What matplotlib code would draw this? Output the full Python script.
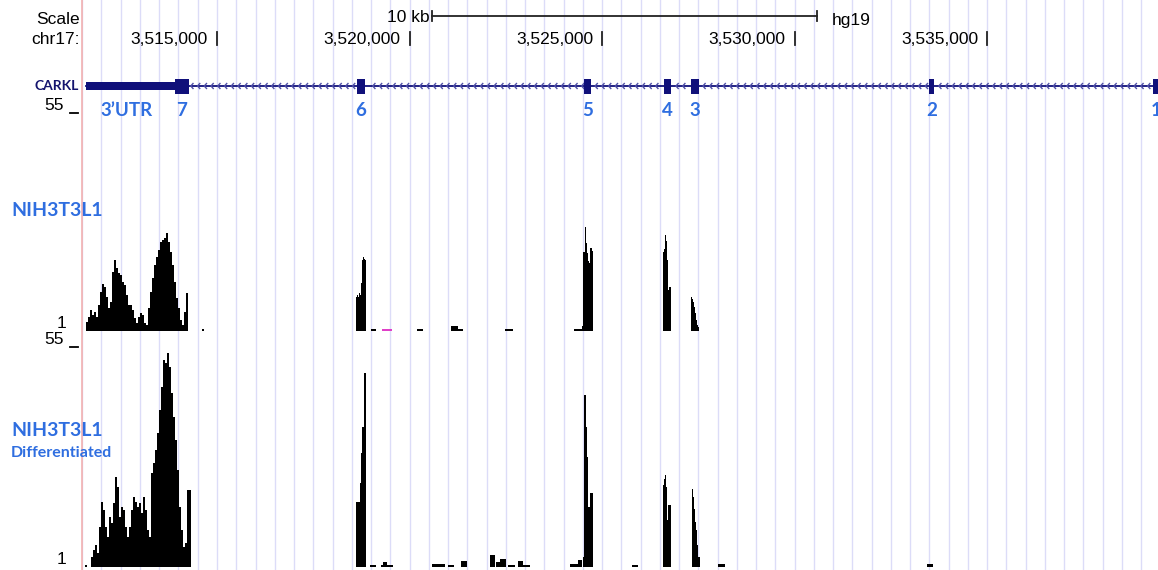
import numpy as np
import matplotlib.pyplot as plt
from matplotlib.collections import LineCollection

# ---------------- data ----------------
VIEW_START = 3511494
VIEW_END = 3539438
GRID_STEP = 500

chrom_ticks = [3515000, 3520000, 3525000, 3530000, 3535000]
chrom_tick_labels = ["3,515,000", "3,520,000", "3,525,000", "3,530,000", "3,535,000"]
scale_start = 3520584
scale_len = 10000

gene_name = "CARKL"
gene_start = 3511598
gene_end = 3539700
utr_start = 3511598
utr_end = 3513909
exon_starts = [3513909, 3518643, 3524531, 3526609, 3527310, 3533490, 3539308]
exon_ends = [3514273, 3518844, 3524713, 3526790, 3527517, 3533620, 3539490]
exon_labels = ["7", "6", "5", "4", "3", "2", "1"]
utr_label_pos = 3512663

# track 1 : NIH3T3L1
t1_utr_start = 3511598
t1_utr = [3.2, 4.5, 6.2, 5.0, 5.7, 4.5, 7.4, 10.7, 12.6, 11.9, 9.4, 6.7, 8.2, 15.6, 18.6,
          16.6, 15.4, 14.9, 13.1, 12.4, 9.9, 7.4, 7.4, 6.2, 4.2, 3.0, 4.5, 5.5, 5.0, 3.0,
          2.5, 6.7, 10.7, 14.1, 17.3, 19.3, 21.1, 23.0, 23.5, 24.0, 25.3, 23.0, 20.6, 17.3,
          13.1, 9.2, 6.7, 3.7, 2.5, 5.7, 10.4]
t1_ex6_start = 3518610
t1_ex6 = [9.4, 9.9, 9.4, 10.4, 9.9, 12.9, 18.6, 19.3, 18.8, 18.6]
t1_ex5_start = 3524479
t1_ex5 = [2.2, 20.6, 20.6, 26.8, 22.8, 20.3, 18.3, 17.8, 21.6, 21.6, 20.8]
t1_ex4_start = 3526583
t1_ex4 = [20.6, 21.3, 24.8, 23.3, 18.6, 11.2, 11.9, 11.9]
t1_ex3_start = 3527310
t1_ex3 = [9.4, 8.9, 8.2, 6.9, 5.5, 3.7, 2.5, 2.0]
t1_low_starts = [3514610, 3519000, 3520194, 3521077, 3521259, 3522479, 3524271]
t1_low_ends = [3514660, 3519129, 3520350, 3521259, 3521389, 3522687, 3524479]
t1_low_vals = [1.6, 1.5, 1.5, 2.2, 1.5, 1.5, 1.6]
t1_pink = (3519285, 3519545, 1.5)

# track 2 : NIH3T3L1 Differentiated
t2_utr_start = 3511728
t2_utr = [3.5, 5.2, 6.4, 4.4, 10.8, 17.0, 15.0, 10.8, 8.4, 13.3, 11.8, 16.7, 23.1, 20.6,
          13.3, 15.7, 15.0, 10.8, 8.4, 10.8, 15.0, 18.2, 17.0, 15.7, 16.7, 14.3, 18.2, 15.0,
          10.1, 8.4, 24.1, 26.5, 29.7, 33.9, 39.5, 45.2, 51.8, 51.1, 53.5, 50.1, 43.7, 37.8,
          32.2, 24.8, 15.7, 10.1, 5.9, 6.9, 19.9, 19.9]
t2_ex6_start = 3518610
t2_ex6 = [17.0, 17.0, 17.0, 17.0, 21.6, 29.0, 35.4, 35.4, 48.6, 48.6]
t2_ex5_start = 3524505
t2_ex5 = [3.5, 43.2, 43.2, 35.4, 28.0, 15.7, 15.7, 19.2, 19.2, 19.2]
t2_ex4_start = 3526583
t2_ex4 = [21.1, 22.6, 23.6, 20.6, 12.5, 16.2, 16.2, 16.2]
t2_ex3_start = 3527336
t2_ex3 = [20.1, 18.2, 15.2, 12.0, 10.1, 6.4, 3.5, 3.5]
t2_low_starts = [3511572, 3518973, 3519259, 3519311, 3520584, 3520999, 3521337, 3522090,
                 3522246, 3522350, 3522557, 3522817, 3522947, 3524167, 3524375, 3525778,
                 3528011, 3533439]
t2_low_ends = [3511624, 3519129, 3519571, 3519415, 3520921, 3521155, 3521493, 3522220,
               3522350, 3522505, 3522739, 3522947, 3523129, 3524375, 3524479, 3525933,
               3528193, 3533595]
t2_low_vals = [1.5, 1.5, 1.5, 2.2, 1.8, 1.5, 2.5, 3.9, 2.2, 3.0, 1.5, 2.5, 1.5, 1.7, 2.7,
               1.5, 1.7, 1.7]

TRACK_MIN, TRACK_MAX = 1, 55

# ---------------- layout ----------------
W, H = 1158, 570
NAVY = "#10107a"
BLUE = "#2f6ee0"
GRID = "#dcdcf8"

fig = plt.figure(figsize=(W / 100, H / 100), dpi=100)
fig.patch.set_facecolor("white")

left = 82 / W
width = 1 - left


def fy(py):
    return 1 - py / H


def add_ax(top_px, bot_px):
    ax = fig.add_axes([left, fy(bot_px), width, (bot_px - top_px) / H])
    ax.set_xlim(VIEW_START, VIEW_END)
    ax.set_facecolor("none")
    ax.axis("off")
    return ax


# background grid
bg = add_ax(0, H)
bg.set_ylim(0, 1)
for g in np.arange(3511500, VIEW_END, GRID_STEP):
    bg.axvline(g, color=GRID, lw=1.0, zorder=0)
fig.add_artist(plt.Line2D([left, left], [0, 1], color="#f2b0b0", lw=1.2))

# header (scale bar, chrom ticks, gene)
hdr = add_ax(0, 113)
hdr.set_ylim(113, 0)
sans = "Liberation Sans"
FS = 12.5

hdr.plot([scale_start, scale_start + scale_len], [16, 16], color="#222222", lw=1.3)
for xe in (scale_start, scale_start + scale_len):
    hdr.plot([xe, xe], [11, 21], color="#222222", lw=1.3)
hdr.annotate("10 kb", (scale_start, 17), xytext=(-2, 0), textcoords="offset pixels",
             ha="right", va="center", fontsize=FS, family=sans)
hdr.annotate("hg19", (scale_start + scale_len, 20), xytext=(15, 0), textcoords="offset pixels",
             ha="left", va="center", fontsize=FS, family=sans)

for pos, lab in zip(chrom_ticks, chrom_tick_labels):
    hdr.plot([pos, pos], [32, 45], color="#222222", lw=1.3)
    hdr.annotate(lab, (pos, 39), xytext=(-9, 0), textcoords="offset pixels",
                 ha="right", va="center", fontsize=FS, family=sans)

fig.text(80 / W, fy(19), "Scale", ha="right", va="center", fontsize=FS, family=sans)
fig.text(80 / W, fy(39), "chr17:", ha="right", va="center", fontsize=FS, family=sans)

# gene model
GY = 86
hdr.plot([gene_start, gene_end], [GY, GY], color=NAVY, lw=1.3, zorder=3)
step = 175
segs = []
for x0 in np.arange(utr_end + 60, gene_end, step):
    if any(s - 60 <= x0 <= e + 30 for s, e in zip(exon_starts, exon_ends)):
        continue
    segs.append([(x0 + 70, GY - 3), (x0, GY), (x0 + 70, GY + 3)])
hdr.add_collection(LineCollection(segs, colors="#5050a8", lw=1.0, zorder=3))
hdr.fill_between([utr_start, utr_end], GY - 4, GY + 4, color=NAVY, lw=0, zorder=4)
for s, e in zip(exon_starts, exon_ends):
    hdr.fill_between([s, e], GY - 7.5, GY + 7.5, color=NAVY, lw=0, zorder=4)

lato = ["Lato", "DejaVu Sans"]
hdr.text(utr_label_pos, 111, "3\u2019UTR", ha="center", va="center", color=BLUE,
         fontsize=13.5, fontweight="bold", family=lato)
for s, e, lab in zip(exon_starts, exon_ends, exon_labels):
    hdr.text((s + e) / 2, 111, lab, ha="center", va="center", color=BLUE,
             fontsize=13.5, fontweight="bold", family=lato, clip_on=False)
fig.text(79 / W, fy(86), gene_name, ha="right", va="center", color="#14146e",
         fontsize=10, fontweight="bold", family=lato)


def draw_track(ax, segments, lows, pink=None):
    # contiguous coverage runs drawn as filled step histograms
    for start, binw, vals in segments:
        edges = start + binw * np.arange(len(vals) + 1)
        ax.stairs(vals, edges, baseline=TRACK_MIN, fill=True, color="black", zorder=3)
    for s, e, v in zip(*lows):
        ax.bar(s, v - TRACK_MIN, width=e - s, bottom=TRACK_MIN, align="edge",
               color="black", lw=0, zorder=3)
    if pink is not None:
        s, e, v = pink
        ax.bar(s, v - TRACK_MIN, width=e - s, bottom=TRACK_MIN, align="edge",
               color="#e040c8", lw=0, zorder=3)


# track 1
ax1 = add_ax(113, 331)
ax1.set_ylim(TRACK_MIN, TRACK_MAX)
draw_track(ax1,
           [(t1_utr_start, 52, t1_utr), (t1_ex6_start, 26, t1_ex6), (t1_ex5_start, 26, t1_ex5),
            (t1_ex4_start, 26, t1_ex4), (t1_ex3_start, 26, t1_ex3)],
           (t1_low_starts, t1_low_ends, t1_low_vals), t1_pink)

# track 2
ax2 = add_ax(347, 567)
ax2.set_ylim(TRACK_MIN, TRACK_MAX)
draw_track(ax2,
           [(t2_utr_start, 52, t2_utr), (t2_ex6_start, 26, t2_ex6), (t2_ex5_start, 26, t2_ex5),
            (t2_ex4_start, 26, t2_ex4), (t2_ex3_start, 26, t2_ex3)],
           (t2_low_starts, t2_low_ends, t2_low_vals))

# track scale labels
for top_px, bot_px in ((113, 331), (347, 567)):
    fig.text(64 / W, fy(top_px - 7), str(TRACK_MAX), ha="right", va="center",
             fontsize=FS, family=sans)
    fig.add_artist(plt.Line2D([70 / W, 78 / W], [fy(top_px), fy(top_px)], color="black", lw=1.3))
    fig.text(66 / W, fy(bot_px - 8), str(TRACK_MIN), ha="right", va="center",
             fontsize=FS, family=sans)

fig.text(11 / W, fy(210), "NIH3T3L1", ha="left", va="center", color=BLUE,
         fontsize=14, fontweight="bold", family=lato)
fig.text(11 / W, fy(430), "NIH3T3L1", ha="left", va="center", color=BLUE,
         fontsize=14, fontweight="bold", family=lato)
fig.text(11 / W, fy(453), "Differentiated", ha="left", va="center", color=BLUE,
         fontsize=11.5, fontweight="bold", family=lato)

fig.savefig("out.png", dpi=100, facecolor="white")
